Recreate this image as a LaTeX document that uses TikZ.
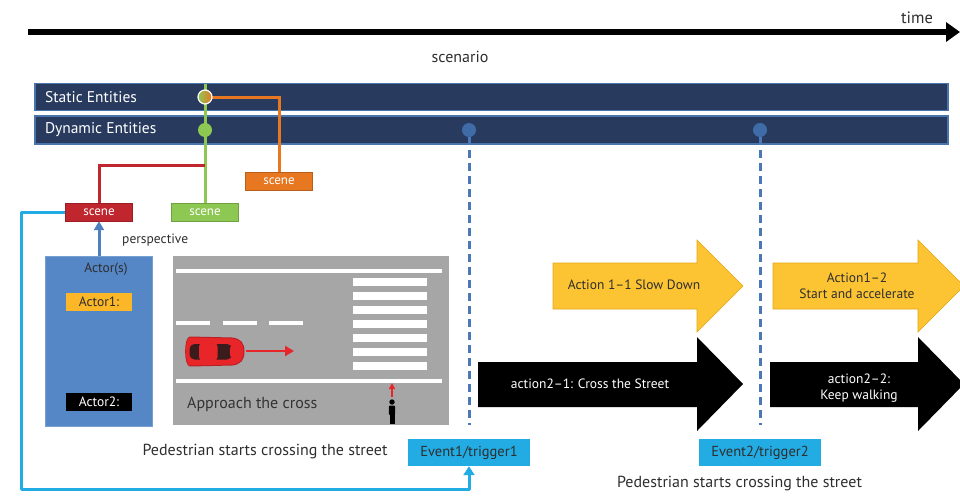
\documentclass[tikz,border=0pt]{standalone}
\usepackage{fontspec}
\setmainfont{PT Sans}
\usetikzlibrary{arrows.meta}

\definecolor{navy}{HTML}{283B5F}
\definecolor{navyedge}{HTML}{4A74AC}
\definecolor{scorange}{HTML}{E87722}
\definecolor{scred}{HTML}{C0262D}
\definecolor{scgreen}{HTML}{8DC853}
\definecolor{evcyan}{HTML}{22ACE3}
\definecolor{actblue}{HTML}{5586C6}
\definecolor{persblue}{HTML}{4F81BD}
\definecolor{dashblue}{HTML}{4B79B8}
\definecolor{dotblue}{HTML}{3F6BA6}
\definecolor{actyellow}{HTML}{FBB727}
\definecolor{arryellow}{HTML}{FCC432}
\definecolor{arredge}{HTML}{E4A516}
\definecolor{roadgray}{HTML}{A6A6A6}
\definecolor{carred}{HTML}{E8262A}
\definecolor{cardark}{HTML}{3A1C1C}
\definecolor{txt}{HTML}{2E2E2E}

\newcommand{\fsz}[1]{\fontsize{#1}{1.15\dimexpr#1pt\relax}\selectfont}

\tikzset{
  bar/.style={draw=navyedge, line width=1.2pt, fill=navy, minimum width=913, minimum height=27, inner sep=0},
  bartext/.style={anchor=west, text=white, font=\fsz{15.5}, inner sep=0},
  scenebox/.style={minimum width=67, minimum height=18, inner sep=0, text=white, font=\fsz{13}, draw=#1!80!black, line width=0.4pt, fill=#1},
  evbox/.style={minimum width=122, minimum height=27, inner sep=0, fill=evcyan, text=txt, font=\fsz{14.5}},
  dot/.style={circle, minimum size=14, inner sep=0},
  link/.style={line width=3pt},
  trig/.style={dashblue, line width=3pt, dash pattern=on 8pt off 5pt},
  marking/.style={fill=white},
  yarrow/.style={fill=arryellow, draw=arredge, line width=0.6pt, line join=miter},
  barrow/.style={fill=black},
  plain/.style={text=txt, inner sep=0},
}

\begin{document}
\begin{tikzpicture}[x=1pt, y=-1pt]
\useasboundingbox (0,0) rectangle (960,496);
\clip (0,0) rectangle (960,496);

% time axis
\coordinate (t0) at (28,32);
\coordinate (t1) at (960,32);
\draw[line width=6pt, -{Triangle[length=14pt,width=19pt]}] (t0) -- (t1);
\node[plain, font=\fsz{16.5}] (time) at (917,18) {time};
\node[plain, font=\fsz{16}] (scen) at (460,57) {scenario};

% entity bars
\node[bar] (sbar) at (491.5,97) {};
\node[bar, minimum height=28] (dbar) at (491.5,130) {};
\node[bartext] (stxt) at (45,97) {Static Entities};
\node[bartext] (dtxt) at (45,130) {Dynamic Entities};

% scene boxes
\node[scenebox=scorange] (scO) at (279,181) {scene};
\node[scenebox=scred] (scR) at (99,212) {scene};
\node[scenebox=scgreen] (scG) at (205,212) {scene};

% scene links
\coordinate (gtop) at (205,84);
\coordinate (rj) at (205,165);
\draw[link, scgreen] (gtop) -- (scG.north);
\draw[link, scred] (rj) -| (scR.north);
\draw[link, scorange] (205,97) -| (scO.north);

% entity markers
\node[dot, draw=white, line width=1.2pt, left color=scgreen, right color=scorange] (cS) at (205,97) {};
\node[dot, fill=scgreen] (cD) at (205,130) {};
\node[dot, fill=dotblue] (e1) at (469,130) {};
\node[dot, fill=dotblue] (e2) at (760,130) {};

% trigger lines
\coordinate (e1end) at (469,425);
\coordinate (e2end) at (760,425);
\draw[trig] (e1.south) -- (e1end);
\draw[trig] (e2.south) -- (e2end);

% actors
\node[fill=actblue, draw=actblue!80!white, line width=0.6pt, minimum width=107, minimum height=170, inner sep=0] (act) at (99,341) {};
\node[plain, font=\fsz{13.5}] (acts) at (106,269) {Actor(s)};
\node[fill=actyellow, minimum width=66, minimum height=18, inner sep=0, text=txt, font=\fsz{13.5}] (a1) at (99,302) {Actor1:};
\node[fill=black, minimum width=66, minimum height=18, inner sep=0, text=white, font=\fsz{13.5}] (a2) at (99,402) {Actor2:};
\draw[persblue, line width=3pt, -{Triangle[length=9pt,width=10pt]}] (act.north) -- (scR.south);
\node[plain, font=\fsz{13.5}, anchor=west] (persp) at (122,240) {perspective};

% road scene
\node[fill=roadgray, minimum width=276, minimum height=169, inner sep=0] (road) at (311,340.5) {};
\fill[marking] (176,268.5) rectangle (442,272.5);
\fill[marking] (176,379) rectangle (442,383);
\foreach \a/\b in {176/210, 223/257, 269/303}
  \fill[marking] (\a,321) rectangle (\b,325);
\foreach \k in {0,...,6}
  \fill[marking] (353,277.7+14.1*\k) rectangle (427,285.7+14.1*\k);

% car seen from above
\fill[carred!80!black] (190,336.5) -- (232,337.5) .. controls (241,338.5) and (244.5,343) .. (244.5,351.5)
  .. controls (244.5,360) and (241,364.5) .. (232,365.5) -- (190,366.5)
  .. controls (183.5,366.5) and (183.5,336.5) .. (190,336.5) -- cycle;
\fill[carred] (190,337.5) -- (232,338.5) .. controls (240,339.5) and (243.5,343.5) .. (243.5,351.5)
  .. controls (243.5,359.5) and (240,363.5) .. (232,364.5) -- (190,365.5)
  .. controls (184.5,365.5) and (184.5,337.5) .. (190,337.5) -- cycle;
\fill[cardark, rounded corners=5] (189.5,344) rectangle (232,359.5);
\fill[carred, rounded corners=4] (199,342.5) rectangle (217.5,361);
\fill[carred] (232,344) .. controls (229,348) and (229,355) .. (232,359.5) -- (235,359.5) -- (235,344) -- cycle;
\coordinate (carfront) at (246,351);
\coordinate (cargoal) at (294,351);
\draw[carred, line width=2.5pt, -{Triangle[length=9pt,width=10pt]}] (carfront) -- (cargoal);

% pedestrian
\fill[black] (392,402) circle (2.7);
\fill[black, rounded corners=1] (388.8,405.5) rectangle (395.2,415);
\fill[black] (389.5,414) rectangle (391.6,424);
\fill[black] (392.4,414) rectangle (394.5,424);
\coordinate (pfoot) at (392,397);
\coordinate (pgoal) at (392,383);
\draw[carred, line width=1.5pt, -{Triangle[length=6pt,width=6pt]}] (pfoot) -- (pgoal);
\node[plain, font=\fsz{16}, anchor=west, text=black!80] (appr) at (187,404) {Approach the cross};

% actions
\draw[yarrow] (553,263) -- (697,263) -- (697,240) -- (743,286) -- (697,332) -- (697,309) -- (553,309) -- cycle;
\draw[yarrow] (773,263) -- (918,263) -- (918,240) -- (964,286) -- (918,332) -- (918,309) -- (773,309) -- cycle;
\fill[barrow] (478,362) -- (697,362) -- (697,337) -- (743,384) -- (697,431) -- (697,407) -- (478,407) -- cycle;
\fill[barrow] (770,362) -- (918,362) -- (918,337) -- (964,384) -- (918,431) -- (918,407) -- (770,407) -- cycle;
\node[plain, font=\fsz{13.5}] (ac11) at (634,285) {Action 1–1 Slow Down};
\node[plain, font=\fsz{13.5}, align=center] (ac12) at (857,286) {Action1–2\\Start and accelerate};
\node[plain, text=white, font=\fsz{13.5}] (ac21) at (590,384) {action2–1: Cross the Street};
\node[plain, text=white, font=\fsz{13.5}, align=center] (ac22) at (859,388) {action2–2:\\Keep walking};

% events
\node[evbox] (ev1) at (469,452.5) {Event1/trigger1};
\node[evbox] (ev2) at (760,452.5) {Event2/trigger2};
\node[plain, font=\fsz{16}] (ped1) at (265,452) {Pedestrian starts crossing the street};
\node[plain, font=\fsz{16}] (ped2) at (739.5,484) {Pedestrian starts crossing the street};

% loop from the red scene to the first event
\coordinate (c1) at (21,212);
\coordinate (c2) at (21,489);
\draw[evcyan, line width=3pt, line join=round, -{Triangle[length=9pt,width=11pt]}] (scR.west) -- (c1) -- (c2) -| (ev1.south);
\end{tikzpicture}
\end{document}
